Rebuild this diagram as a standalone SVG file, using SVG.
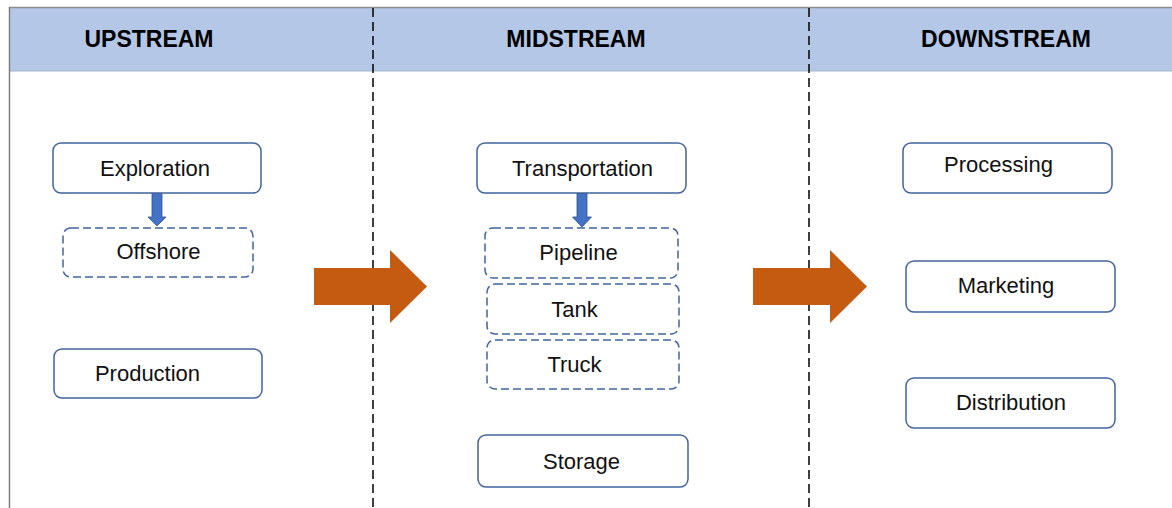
<svg xmlns="http://www.w3.org/2000/svg" width="1172" height="508" viewBox="0 0 1172 508">
  <style>
    .hdr { font-family: "Liberation Sans", Arial, sans-serif; font-weight: bold; font-size: 23px; fill: #000; text-anchor: middle; }
    .lbl { font-family: "Liberation Sans", Arial, sans-serif; font-size: 22px; fill: #111; text-anchor: middle; }
    .box { fill: #fff; stroke: #41649F; stroke-width: 1.5; }
    .dbox { fill: #fff; stroke: #41649F; stroke-width: 1.5; stroke-dasharray: 8 4; }
    .divider { stroke: #000; stroke-width: 1.5; stroke-dasharray: 9 5; fill: none; }
    .big-arrow { fill: #C55A11; }
    .small-arrow { fill: #4472C4; stroke: #2F528F; stroke-width: 0.8; }
  </style>

  <rect x="0" y="0" width="1172" height="508" fill="#fff"/>

  <!-- header band -->
  <g id="header">
    <rect x="9" y="7" width="1163" height="64" fill="#B4C7E7"/>
    <line x1="9" y1="7.5" x2="1172" y2="7.5" stroke="#8C8C8C" stroke-width="1.5"/>
    <line x1="9" y1="71" x2="1172" y2="71" stroke="#A9B5C8" stroke-width="1"/>
    <line x1="9.5" y1="7" x2="9.5" y2="508" stroke="#7F7F7F" stroke-width="1.5"/>
    <text class="hdr" x="149" y="47">UPSTREAM</text>
    <text class="hdr" x="576" y="47">MIDSTREAM</text>
    <text class="hdr" x="1006" y="47">DOWNSTREAM</text>
  </g>

  <!-- column dividers -->
  <g id="dividers">
    <line class="divider" x1="373" y1="8" x2="373" y2="508"/>
    <line class="divider" x1="809" y1="8" x2="809" y2="508"/>
  </g>

  <!-- connectors -->
  <g id="connectors">
    <path class="big-arrow" d="M314 268 H390 V250 L427 286.5 L390 323 V305 H314 Z"/>
    <path class="big-arrow" d="M753 268 H830 V250 L867 286.5 L830 323 V305 H753 Z"/>
    <path class="small-arrow" d="M152 193 H162 V217 H166 L157 226 L148 217 H152 Z"/>
    <path class="small-arrow" d="M577 193 H587 V217 H591.5 L582 227 L572.5 217 H577 Z"/>
  </g>

  <!-- upstream -->
  <g id="exploration">
    <rect class="box" x="53" y="143" width="208" height="50" rx="8"/>
    <text class="lbl" x="155" y="176">Exploration</text>
  </g>
  <g id="offshore">
    <rect class="dbox" x="63" y="228" width="190" height="49" rx="8"/>
    <text class="lbl" x="158.5" y="259">Offshore</text>
  </g>
  <g id="production">
    <rect class="box" x="54" y="349" width="208" height="49" rx="8"/>
    <text class="lbl" x="147.5" y="381">Production</text>
  </g>

  <!-- midstream -->
  <g id="transportation">
    <rect class="box" x="477" y="143" width="209" height="50" rx="8"/>
    <text class="lbl" x="582.5" y="176">Transportation</text>
  </g>
  <g id="pipeline">
    <rect class="dbox" x="485" y="228" width="193" height="50" rx="8"/>
    <text class="lbl" x="578.5" y="260">Pipeline</text>
  </g>
  <g id="tank">
    <rect class="dbox" x="487" y="284" width="192" height="50" rx="8"/>
    <text class="lbl" x="574.5" y="317">Tank</text>
  </g>
  <g id="truck">
    <rect class="dbox" x="487" y="340" width="192" height="49" rx="8"/>
    <text class="lbl" x="574.5" y="372">Truck</text>
  </g>
  <g id="storage">
    <rect class="box" x="478" y="435" width="210" height="52" rx="8"/>
    <text class="lbl" x="581.5" y="469">Storage</text>
  </g>

  <!-- downstream -->
  <g id="processing">
    <rect class="box" x="903" y="143" width="209" height="50" rx="8"/>
    <text class="lbl" x="998.5" y="172">Processing</text>
  </g>
  <g id="marketing">
    <rect class="box" x="906" y="261" width="209" height="51" rx="8"/>
    <text class="lbl" x="1006" y="293">Marketing</text>
  </g>
  <g id="distribution">
    <rect class="box" x="906" y="378" width="209" height="50" rx="8"/>
    <text class="lbl" x="1011" y="410">Distribution</text>
  </g>
</svg>
